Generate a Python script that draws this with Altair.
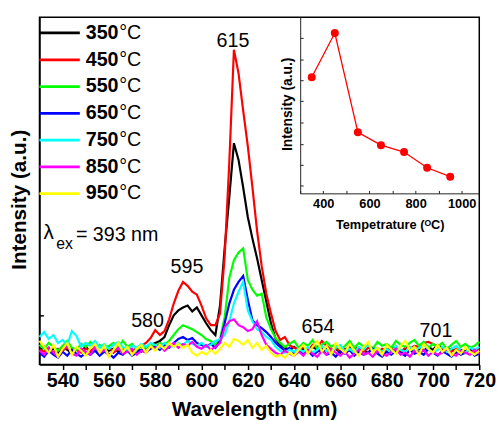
import altair as alt
import pandas as pd

# ---------------- data ----------------
labels = ["350°C", "450°C", "550°C", "650°C", "750°C", "850°C", "950°C"]
numbers = ["350", "450", "550", "650", "750", "850", "950"]
colors = ["#000000", "#FF0000", "#00FF00", "#0000FF", "#00FFFF", "#FF00FF", "#FFFF00"]

wavelengths = list(range(530, 721, 2))  # 96 points

s350 = ([14,18,13,16,12,17,15,11,16,14,18,13,15,12,17,14,16,13,15,18,14,16,13,17,20]
        + [22,24,28,40,50,55,58,60,54,58,50,42,35,30,60,118,170,225,208,180,150,128,108,86,64,42,26,20,17,15,18]
        + [14,16,12,18,15,13,17,14,16,12,15,18,13,16,14,12,17,15,13,16,14,18,12,15,17,13,16,14,18,15,20,17,14,16,12,15,13,17,14,12])
s450 = ([15,13,17,12,16,14,18,13,15,12,16,14,17,13,15,18,12,16,14,17,13,15,19,22,27]
        + [35,30,34,46,62,75,84,80,74,71,60,47,40,40,52,110,205,320,296,258,222,180,136,100,72,52,34,25,28,20,17]
        + [15,18,14,20,17,24,19,15,17,13,16,14,18,15,13,17,15,12,16,14,18,15,13,17,16,19,18,22,23,21,18,15,17,13,16,14,12,15,13,16])
s550 = ([20,16,22,18,14,19,24,17,15,21,18,23,16,20,14,19,22,17,24,18,21,15,19,17,20]
        + [18,22,20,24,30,36,40,38,36,33,30,26,24,20,26,48,88,106,114,118,86,76,70,72,48,36,27,22,18,21,24]
        + [17,22,19,25,16,20,23,18,21,15,19,24,17,22,18,20,16,23,19,21,17,24,20,18,22,25,19,23,17,21,18,22,16,20,24,18,21,17,19,23])
s650 = ([12,8,14,10,7,13,9,15,11,8,12,10,14,9,13,11,7,12,10,14,9,12,15,13,16]
        + [18,15,20,17,22,26,28,25,27,22,20,18,21,17,24,42,62,76,84,90,66,45,40,37,33,28,22,18,14,17,12]
        + [15,11,14,9,13,16,10,12,8,14,11,15,9,13,10,12,16,11,8,13,10,14,12,9,15,11,13,10,16,12,9,14,11,8,13,10,12,15,9,11])
s750 = ([28,33,26,30,22,25,20,34,29,18,22,19,24,17,21,16,20,23,18,15,19,17,21,18,22]
        + [20,17,22,19,18,22,20,24,21,19,22,18,20,24,26,30,44,62,74,84,55,44,36,33,28,25,18,14,12,15,13]
        + [16,13,18,12,15,19,14,11,17,20,13,16,12,18,15,21,14,17,13,16,12,19,15,13,18,14,17,20,16,12,15,18,13,16,19,14,12,17,15,18])
s850 = ([14,10,17,12,8,15,19,11,9,16,13,10,18,12,15,9,14,17,11,13,16,10,14,12,18]
        + [16,20,14,18,22,17,21,19,23,18,16,20,15,18,22,38,44,46,40,38,34,36,44,30,20,16,12,10,14,11,9]
        + [13,9,15,11,8,14,10,16,12,9,13,7,11,15,10,12,8,14,11,9,13,16,10,12,8,14,11,15,9,13,10,12,16,11,9,14,12,10,15,11])
s950 = ([24,18,12,20,8,16,22,10,18,14,9,17,21,12,19,8,15,22,13,18,10,16,20,12,19]
        + [14,20,16,22,18,21,17,20,12,9,13,10,15,11,16,22,18,26,24,20,25,17,22,15,19,12,8,10,7,12,9]
        + [15,20,11,18,24,13,19,10,22,16,12,21,14,9,18,23,12,17,10,20,15,11,19,24,14,18,10,21,16,12,20,13,17,9,15,11,18,13,10,14])
series = [s350, s450, s550, s650, s750, s850, s950]

peak_labels = ["615", "595", "580", "654", "701"]
peak_wl = [613.6, 593.7, 576.7, 650.3, 701.3]
peak_val = [329, 99, 44, 38, 34]

inset_temps = [350, 450, 550, 650, 750, 850, 950]
inset_vals = [118, 163, 62, 49, 42, 26, 17]
inset_x_ticks = [300, 400, 500, 600, 700, 800, 900, 1000]
inset_y_ticks = [8, 29, 50, 72, 94, 115, 136, 158]

# ---------------- frames ----------------
rows = []
for lab, s in zip(labels, series):
    for w, v in zip(wavelengths, s):
        rows.append({"wl": w, "val": v, "temp": lab})
spec_df = pd.DataFrame(rows)

leg_df = pd.DataFrame({"temp": labels, "num": numbers, "row": list(range(len(labels)))})
peak_df = pd.DataFrame({"wl": peak_wl, "val": peak_val, "label": peak_labels})
inset_df = pd.DataFrame({"temp": inset_temps, "ival": inset_vals})

FONT = "Liberation Sans"
W, H = 447, 353

xs = alt.Scale(domain=[530, 720], nice=False, zero=False)
ys = alt.Scale(domain=[0, 353], nice=False, zero=False)
x_axis = alt.Axis(values=list(range(540, 721, 10)),
                  labelExpr="datum.value % 20 == 0 ? datum.label : ''",
                  title="Wavelength (nm)", titleFontSize=21, titleFontWeight="bold",
                  titleX=218, titleY=52, titleBaseline="alphabetic",
                  labelFontSize=20, labelFontWeight="bold", labelPadding=1,
                  labelFlush=False, labelOverlap=False,
                  tickSize=5, tickColor="black", tickWidth=1.5,
                  domainColor="black", domainWidth=1.5, grid=False)
y_axis = alt.Axis(orient="right", offset=-W, values=[50], labels=False,
                  tickSize=4, tickColor="black", tickWidth=1.5,
                  domainColor="black", domainWidth=1.5, grid=False,
                  title="Intensity (a.u.)", titleFontSize=21, titleFontWeight="bold",
                  titleAngle=270, titleX=-20, titleY=185,
                  titleAlign="center", titleBaseline="middle")

color_scale = alt.Scale(domain=labels, range=colors)

lines = alt.Chart(spec_df).mark_line(strokeWidth=2.2).encode(
    x=alt.X("wl:Q", scale=xs, axis=x_axis),
    y=alt.Y("val:Q", scale=ys, axis=y_axis),
    color=alt.Color("temp:N", scale=color_scale, legend=None, sort=labels),
    detail="temp:N",
)

leg_lines = alt.Chart(leg_df).transform_calculate(
    ly="16 + datum.row * 27.2"
).mark_rule(strokeWidth=2.8).encode(
    x=alt.value(0), x2=alt.value(41),
    y=alt.Y("ly:Q", scale=None),
    color=alt.Color("temp:N", scale=color_scale, legend=None),
)
leg_num = alt.Chart(leg_df).transform_calculate(
    ly="16 + datum.row * 27.2"
).mark_text(align="left", baseline="middle", font=FONT, fontSize=20,
            fontWeight="bold", color="black").encode(
    x=alt.value(47), y=alt.Y("ly:Q", scale=None), text="num:N")
leg_deg = alt.Chart(leg_df).transform_calculate(
    ly="16 + datum.row * 27.2"
).mark_text(align="left", baseline="middle", font=FONT, fontSize=20,
            color="black", text="°C").encode(
    x=alt.value(81), y=alt.Y("ly:Q", scale=None))

peaks = alt.Chart(peak_df).mark_text(font=FONT, fontSize=20, color="black",
                                     align="center", baseline="middle").encode(
    x=alt.X("wl:Q", scale=xs, axis=x_axis),
    y=alt.Y("val:Q", scale=ys, axis=y_axis),
    text="label:N")

lam = alt.Chart(peak_df.head(1)).mark_text(font=FONT, fontSize=21, color="black",
                                          align="left", baseline="middle", text="λ").encode(
    x=alt.value(4), y=alt.value(219))
lam_ex = alt.Chart(peak_df.head(1)).mark_text(font=FONT, fontSize=16, color="black",
                                             align="left", baseline="middle", text="ex").encode(
    x=alt.value(17), y=alt.value(231))
lam_val = alt.Chart(peak_df.head(1)).mark_text(font=FONT, fontSize=20, color="black",
                                              align="left", baseline="middle", text="= 393 nm").encode(
    x=alt.value(37), y=alt.value(221))

main = alt.layer(lines, leg_lines, leg_num, leg_deg, peaks, lam, lam_ex, lam_val)

ixs = alt.Scale(domain=[300, 1076], range=[265, W], nice=False, zero=False)
iys = alt.Scale(domain=[0, 179], range=[179, 0], nice=False, zero=False)
ix_axis = alt.Axis(orient="top", offset=-179, values=inset_x_ticks, format="d",
                   labelExpr="(datum.value % 200 == 0 && datum.value >= 400) ? datum.label : ''",
                   labelFontSize=13, labelFontWeight="bold", labelBaseline="middle",
                   labelPadding=-13, labelFlush=False, labelOverlap=False,
                   tickSize=3, tickColor="#222222", domainColor="#222222", domainWidth=1,
                   grid=False, title="Tempetrature (ᴼC)", titleFontSize=13,
                   titleFontWeight="bold", titleX=356, titleY=32, titleBaseline="middle")
iy_axis = alt.Axis(orient="right", offset=-(W - 265), values=inset_y_ticks, labels=False,
                   tickSize=3, tickColor="#222222", domainColor="#222222", domainWidth=1,
                   grid=False, title="Intensity (a.u.)", titleFontSize=14,
                   titleFontWeight="bold", titleAngle=270, titleX=-13, titleY=88,
                   titleAlign="center", titleBaseline="middle")

inset_line = alt.Chart(inset_df).mark_line(color="#FF0000", strokeWidth=1.3).encode(
    x=alt.X("temp:Q", scale=ixs, axis=ix_axis),
    y=alt.Y("ival:Q", scale=iys, axis=iy_axis))
inset_pts = alt.Chart(inset_df).mark_circle(color="#FF0000", size=66, opacity=1).encode(
    x=alt.X("temp:Q", scale=ixs, axis=ix_axis),
    y=alt.Y("ival:Q", scale=iys, axis=iy_axis))
inset = alt.layer(inset_line, inset_pts)

chart = alt.layer(main, inset).resolve_scale(x="independent", y="independent").resolve_axis(
    x="independent", y="independent"
).properties(
    width=W, height=H,
    autosize=alt.AutoSizeParams(type="none"),
    padding={"left": 32, "top": 6, "right": 17, "bottom": 56},
).configure_view(stroke="black", strokeWidth=1.5).configure_axis(
    labelFont=FONT, titleFont=FONT, labelColor="black", titleColor="black"
).configure_text(font=FONT)

chart.save("out.html", embed_options={"renderer": "svg", "actions": False})
